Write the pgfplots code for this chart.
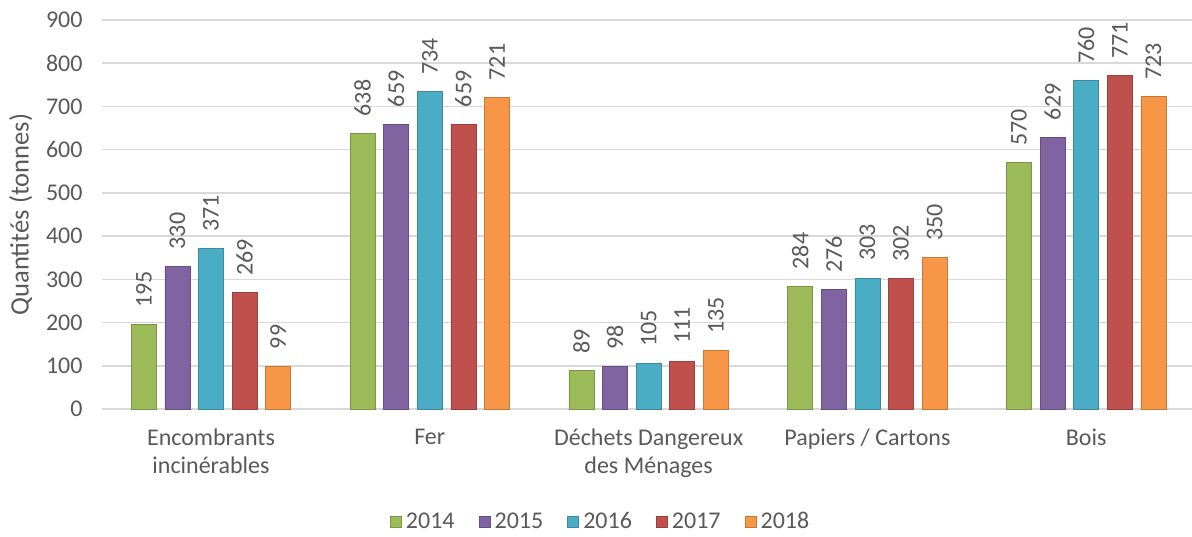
\documentclass[border=0pt]{standalone}
\usepackage{pgfplots}
\pgfplotsset{compat=1.18}
\usepackage{fontspec}
\setmainfont{Carlito}
\definecolor{txt}{HTML}{595959}
\definecolor{grd}{HTML}{D9D9D9}
\definecolor{cA}{HTML}{9BBB59}
\definecolor{cB}{HTML}{8064A2}
\definecolor{cC}{HTML}{4BACC6}
\definecolor{cD}{HTML}{C0504D}
\definecolor{cE}{HTML}{F79646}
\begin{document}
\begin{tikzpicture}
\useasboundingbox (-50.8pt,-63.5pt) rectangle (545.2pt,204.5pt);
\begin{axis}[
  scale only axis,
  width=547pt, height=194.5pt,
  ymin=0, ymax=900, ytick={0,100,...,900},
  xmin=-0.5, xmax=4.5,
  xtick={0,1,2,3,4},
  xticklabels={{Encombrants\\incinérables},Fer,{Déchets Dangereux\\des Ménages},{Papiers / Cartons},Bois},
  xticklabel style={align=center, text=txt, font=\fontsize{12pt}{14pt}\selectfont, yshift=-6.5pt},
  yticklabel style={text=txt, font=\fontsize{12pt}{13.5pt}\selectfont, xshift=-6pt},
  /pgf/number format/assume math mode=true,
  major tick length=0pt,
  axis lines*=left,
  x axis line style={draw=grd, line width=0.8pt},
  y axis line style={draw=none},
  ymajorgrids, grid style={draw=grd, line width=0.8pt},
  ylabel={Quantités (tonnes)},
  ylabel style={text=txt, font=\fontsize{13.3pt}{15pt}\selectfont},
  ybar=4.3pt, bar width=12.5pt,
  nodes near coords,
  every node near coord/.append style={rotate=90, anchor=west, text=txt, font=\fontsize{12pt}{13.5pt}\selectfont, xshift=5pt},
  legend style={at={(250pt,-56.5pt)}, anchor=center, draw=none, fill=none, legend columns=5,
    font=\fontsize{12pt}{13.5pt}\selectfont, text=txt,
    /tikz/every even column/.style={column sep=10pt}},
  legend image code/.code={\fill[#1] (0pt,-2.8pt) rectangle (5.6pt,2.8pt);},
  clip=false,
]
\addplot[draw=cA!80!black, fill=cA] coordinates {(0,195) (1,638) (2,89) (3,284) (4,570)};
\addplot[draw=cB!80!black, fill=cB] coordinates {(0,330) (1,659) (2,98) (3,276) (4,629)};
\addplot[draw=cC!80!black, fill=cC] coordinates {(0,371) (1,734) (2,105) (3,303) (4,760)};
\addplot[draw=cD!80!black, fill=cD] coordinates {(0,269) (1,659) (2,111) (3,302) (4,771)};
\addplot[draw=cE!80!black, fill=cE] coordinates {(0,99) (1,721) (2,135) (3,350) (4,723)};
\legend{2014,2015,2016,2017,2018}
\end{axis}
\end{tikzpicture}
\end{document}
